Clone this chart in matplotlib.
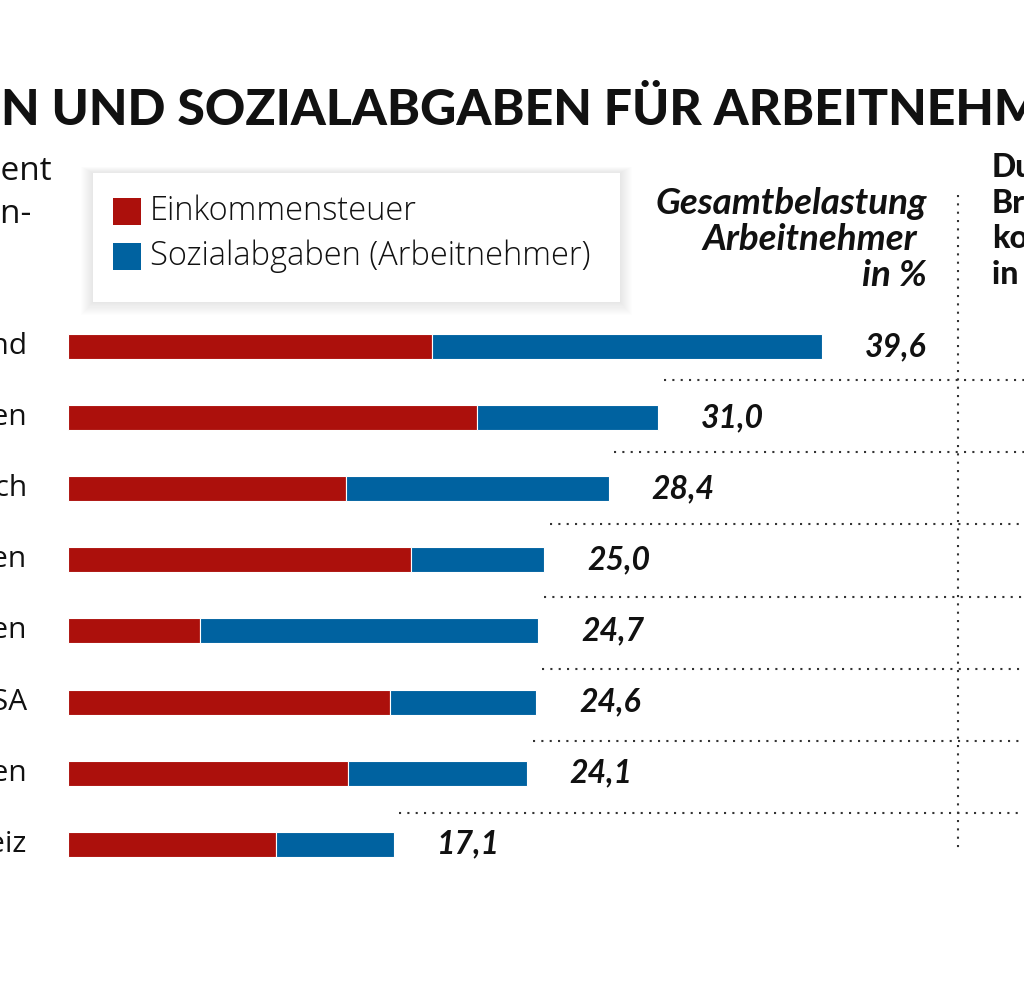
import matplotlib
matplotlib.use("Agg")
import matplotlib.pyplot as plt
from matplotlib.patches import Rectangle
from matplotlib.lines import Line2D

# ---------------- data ----------------
countries = ["Deutschland", "Italien", "Frankreich", "Schweden", "Polen", "USA",
             "Großbritannien", "Schweiz"]
einkommensteuer = [19.1, 21.5, 14.6, 18.0, 6.9, 16.9, 14.7, 10.9]
sozialabgaben = [20.5, 9.5, 13.8, 7.0, 17.8, 7.7, 9.4, 6.2]
gesamt = [39.6, 31.0, 28.4, 25.0, 24.7, 24.6, 24.1, 17.1]
gesamt_labels = ["39,6", "31,0", "28,4", "25,0", "24,7", "24,6", "24,1", "17,1"]
legend_labels = ["Einkommensteuer", "Sozialabgaben (Arbeitnehmer)"]
title_hidden = "STEUER"
title_visible = "N UND SOZIALABGABEN FÜR ARBEITNEHMER"
subtitle_lines = ["Angaben in Prozent", "vom Bruttoeinkommen-"]
header_total = ["Gesamtbelastung", "Arbeitnehmer", "in %"]
header_right = ["Durchschnittliches", "Bruttojahresein-", "kommen", "in Euro"]

RED = "#AC100C"
BLUE = "#0062A0"
TXT = "#111111"
FONT = "Lato"
FONT2 = "Open Sans"

W, H = 1024, 1001
fig = plt.figure(figsize=(W / 100, H / 100), dpi=100)
ax = fig.add_axes([0, 0, 1, 1])
ax.set_axis_off()

# scales: bar origin at px 68.3, 19.03 px per percent; row 0 at px 346.5, 71.1 px per row
X0, SX = 68.3, 19.03
Y0, SY = 346.5, 71.1
ax.set_xlim(-X0 / SX, (W - X0) / SX)
ax.set_ylim((H - Y0) / SY, -Y0 / SY)


def fx(px):
    return px / W


def fy(py):
    return 1 - py / H


def xd(px):
    return (px - X0) / SX


ys = list(range(len(countries)))
bh = 25 / SY
ax.barh(ys, einkommensteuer, height=bh, color=RED, edgecolor="white", linewidth=0.8)
ax.barh(ys, sozialabgaben, left=einkommensteuer, height=bh, color=BLUE,
        edgecolor="white", linewidth=0.8)

# country labels (cropped at the left border)
for i, name in enumerate(countries):
    ax.text(xd(27), i, name, ha="right", va="center", fontsize=21.5,
            family=FONT2, color=TXT)

# total values
for i, (g, lab) in enumerate(zip(gesamt, gesamt_labels)):
    ax.text(g + 2.25, i, lab, ha="left", va="center", fontsize=23,
            family=FONT, fontweight="bold", fontstyle="italic", color=TXT)

# dotted separators
dot = dict(color="#333333", linewidth=1.5, linestyle=(0, (1, 3)))
xmax = ax.get_xlim()[1]
for i in range(len(countries) - 1):
    ax.hlines(i + 0.47 + 0.016 * i, gesamt[i + 1] + 0.3, xmax, **dot)
fig.add_artist(Line2D([fx(958), fx(958)], [fy(195), fy(853)],
                      transform=fig.transFigure, **dot))

# title
fig.text(fx(-4), fy(125), title_hidden, ha="right", va="baseline", fontsize=36,
         family=FONT, fontweight="black", color=TXT)
fig.text(fx(1), fy(125), title_visible, ha="left", va="baseline", fontsize=36,
         family=FONT, fontweight="black", color=TXT)

# subtitle (cropped)
fig.text(fx(52), fy(180), subtitle_lines[0], ha="right", va="baseline", fontsize=24,
         family=FONT2, color=TXT)
fig.text(fx(31), fy(223), subtitle_lines[1], ha="right", va="baseline", fontsize=24,
         family=FONT2, color=TXT)

# legend box with soft shadow
bx0, by0, bx1, by1 = 93, 173, 620, 302
for k in range(12, 0, -1):
    fig.add_artist(Rectangle((fx(bx0 - k), fy(by1 + k * 1.1)),
                             (bx1 - bx0 + 2 * k) / W, (by1 - by0 + k * 1.6) / H,
                             transform=fig.transFigure,
                             facecolor="black", edgecolor="none", alpha=0.008))
fig.add_artist(Rectangle((fx(bx0), fy(by1)), (bx1 - bx0) / W, (by1 - by0) / H,
                         transform=fig.transFigure, facecolor="white", edgecolor="none"))
for j, (lab, col) in enumerate(zip(legend_labels, [RED, BLUE])):
    top = 198 + 45 * j
    fig.add_artist(Rectangle((fx(113), fy(top + 27)), 28 / W, 27 / H,
                             transform=fig.transFigure, facecolor=col, edgecolor="none"))
    fig.text(fx(150), fy(220 + 45 * j), lab, ha="left", va="baseline", fontsize=23.5,
             family=FONT2, fontweight="light", color=TXT)

# header for totals
for j, line in enumerate(header_total):
    xr = 917 if j == 1 else 927
    fig.text(fx(xr), fy(214 + 36 * j), line, ha="right", va="baseline", fontsize=26.5,
             family=FONT, fontweight="bold", fontstyle="italic", color=TXT)

# right column header (cropped)
for j, line in enumerate(header_right):
    fig.text(fx(992), fy(177 + 35.5 * j), line, ha="left", va="baseline", fontsize=23,
             family=FONT, fontweight="black", color=TXT)

fig.savefig("out.png", dpi=100, facecolor="white")
